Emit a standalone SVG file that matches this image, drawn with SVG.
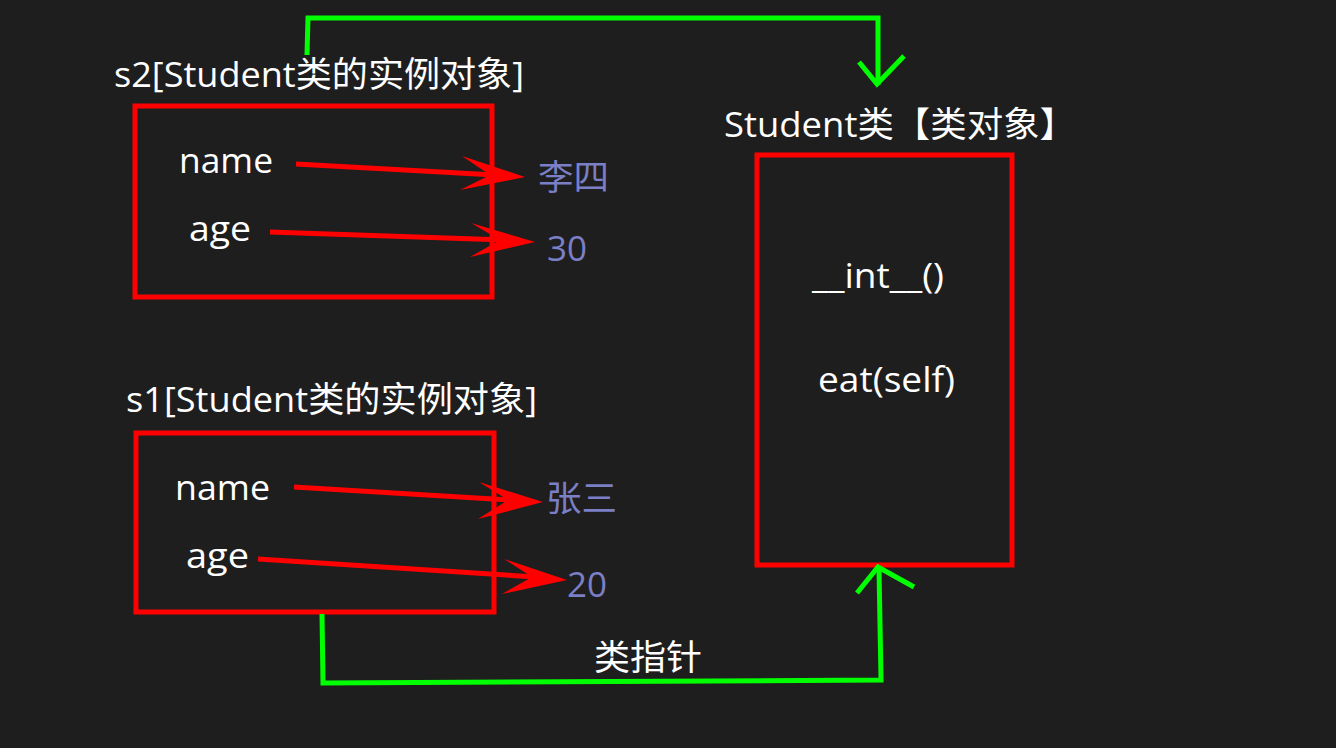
<svg xmlns="http://www.w3.org/2000/svg" width="1336" height="748" viewBox="0 0 1336 748">
<style>
.t{font-family:"Open Sans","Noto Sans CJK SC",sans-serif;fill:#ffffff;font-size:35px;}
.v{font-family:"Open Sans","Noto Sans CJK SC",sans-serif;fill:#7b7fc6;font-size:35px;}
.box{fill:none;stroke:#ff0000;stroke-width:5;}
.ra{stroke:#ff0000;stroke-width:5;fill:none;}
.rh{fill:#ff0000;}
.g{stroke:#00ff00;stroke-width:5;fill:none;stroke-linejoin:miter;}
</style>
<rect width="1336" height="748" fill="#1e1e1e"/>
<g id="s2">
<text class="t" x="114" y="87" textLength="410" lengthAdjust="spacingAndGlyphs">s2[Student类的实例对象]</text>
<rect class="box" x="135" y="106" width="357" height="191"/>
<text class="t" x="179" y="173" textLength="94" lengthAdjust="spacingAndGlyphs">name</text>
<text class="t" x="189" y="241" textLength="62" lengthAdjust="spacingAndGlyphs">age</text>
</g>
<g id="s1">
<text class="t" x="126" y="412" textLength="411" lengthAdjust="spacingAndGlyphs">s1[Student类的实例对象]</text>
<rect class="box" x="136" y="433" width="358" height="179"/>
<text class="t" x="175" y="500" textLength="95" lengthAdjust="spacingAndGlyphs">name</text>
<text class="t" x="186" y="568" textLength="63" lengthAdjust="spacingAndGlyphs">age</text>
</g>
<g id="student-class">
<text class="t" x="724" y="137" textLength="352" lengthAdjust="spacingAndGlyphs">Student类【类对象】</text>
<rect class="box" x="757" y="155" width="255" height="410"/>
<text class="t" x="812" y="288" textLength="132" lengthAdjust="spacingAndGlyphs">__int__()</text>
<text class="t" x="818" y="392" textLength="137" lengthAdjust="spacingAndGlyphs">eat(self)</text>
</g>
<g id="values">
<text class="v" x="538" y="190" textLength="71" lengthAdjust="spacingAndGlyphs">李四</text>
<text class="v" x="547" y="261" textLength="40" lengthAdjust="spacingAndGlyphs">30</text>
<text class="v" x="546" y="511" textLength="71" lengthAdjust="spacingAndGlyphs">张三</text>
<text class="v" x="567" y="597" textLength="40" lengthAdjust="spacingAndGlyphs">20</text>
</g>
<g id="label-pointer">
<text class="t" x="594" y="670" textLength="108" lengthAdjust="spacingAndGlyphs">类指针</text>
</g>
<g id="connectors">
<line class="ra" x1="296" y1="164" x2="495" y2="175"/>
<path class="rh" d="M525,177 L462,156 L490,175 L460,190 Z"/>
<line class="ra" x1="270" y1="232" x2="505" y2="240"/>
<path class="rh" d="M535,242 L471,223 L500,240 L470,257 Z"/>
<line class="ra" x1="294" y1="487" x2="512" y2="500"/>
<path class="rh" d="M543,502 L479,482 L508,500 L478,519 Z"/>
<line class="ra" x1="258" y1="559" x2="536" y2="577"/>
<path class="rh" d="M567,580 L504,559 L532,577 L502,594 Z"/>
<polyline class="g" points="307,55 308,18 878,18 878,85"/>
<polyline class="g" points="859,62 877,84 904,56"/>
<polyline class="g" points="322,614 323,683 881,680 879,568"/>
<polyline class="g" points="857,593 878,567 914,587"/>
</g>
</svg>
